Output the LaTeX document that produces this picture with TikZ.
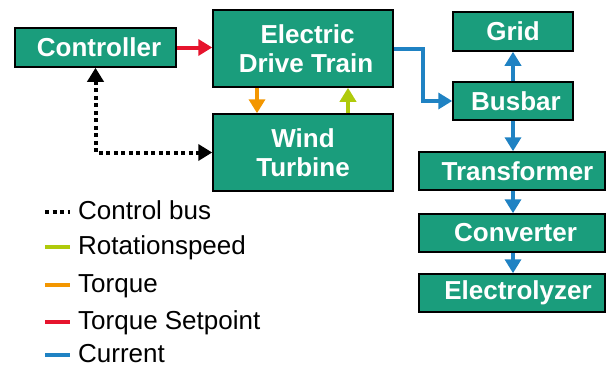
\documentclass[tikz,border=0pt]{standalone}
\usepackage{fontspec}
\setmainfont{Liberation Sans}
\usetikzlibrary{arrows.meta}
\definecolor{boxgreen}{RGB}{26,157,124}
\definecolor{sred}{RGB}{230,20,45}
\definecolor{sorange}{RGB}{243,150,0}
\definecolor{sgreen}{RGB}{175,202,11}
\definecolor{sblue}{RGB}{31,130,195}
\begin{document}
\begin{tikzpicture}[x=1pt,y=-1pt,
  blk/.style={draw=black,line width=1.5pt,fill=boxgreen,text=white,inner sep=0pt,
    font=\bfseries\fontsize{26}{29}\selectfont,align=center},
  conn/.style={line width=4pt,-{Triangle[length=14pt,width=16pt]}},
  dotline/.style={line width=4pt,dash pattern=on 4pt off 3.5pt},
  leg/.style={anchor=west,inner sep=0pt,font=\fontsize{26}{29}\selectfont},
  legline/.style={line width=4pt}]
\useasboundingbox (0,0) rectangle (606,370);
% boxes
\node[blk,minimum width=161pt,minimum height=39pt] (ctrl) at (95.5,47.5) {\hspace*{7pt}Controller};
\node[blk,minimum width=180pt,minimum height=77pt] (edt) at (303,48.5) {\hspace*{9pt}Electric\\\hspace*{6pt}Drive Train};
\node[blk,minimum width=180pt,minimum height=77pt] (wt) at (303,152.5) {Wind\\Turbine};
\node[blk,minimum width=120pt,minimum height=39pt] (grid) at (513,31.5) {Grid};
\node[blk,minimum width=120pt,minimum height=38pt] (bus) at (513,101) {\hspace*{6pt}Busbar};
\node[blk,minimum width=186pt,minimum height=38pt] (trafo) at (512,171) {\hspace*{11pt}Transformer};
\node[blk,minimum width=186pt,minimum height=38pt] (conv) at (512,233) {\hspace*{7pt}Converter};
\node[blk,minimum width=186pt,minimum height=38pt] (elec) at (512,293) {\hspace*{12pt}Electrolyzer};
% connectors
\draw[conn,sred] (ctrl.east) -- (edt.west |- ctrl.east);
\draw[conn,sorange] (edt.south -| 257,0) -- (wt.north -| 257,0);
\draw[conn,sgreen] (wt.north -| 348,0) -- (edt.south -| 348,0);
\draw[dotline,{Triangle[length=14pt,width=16pt]}-{Triangle[length=14pt,width=16pt]}] (ctrl.south) |- (wt.west);
\draw[conn,sblue] (edt.east) -- ++(29,0) |- (bus.west);
\draw[conn,sblue] (bus.north) -- (grid.south);
\draw[conn,sblue] (bus.south) -- (bus.south |- trafo.north);
\draw[conn,sblue] (trafo.south -| bus.south) -- (conv.north -| bus.south);
\draw[conn,sblue] (conv.south -| bus.south) -- (elec.north -| bus.south);
% legend
\coordinate (l1a) at (45,212); \coordinate (l1b) at (70,212);
\coordinate (l2a) at (45,247); \coordinate (l2b) at (70,247);
\coordinate (l3a) at (45,285); \coordinate (l3b) at (70,285);
\coordinate (l4a) at (45,322); \coordinate (l4b) at (70,322);
\coordinate (l5a) at (45,355); \coordinate (l5b) at (70,355);
\draw[dotline] (l1a) -- (l1b);
\draw[legline,sgreen] (l2a) -- (l2b);
\draw[legline,sorange] (l3a) -- (l3b);
\draw[legline,sred] (l4a) -- (l4b);
\draw[legline,sblue] (l5a) -- (l5b);
\node[leg,anchor=base west] (t1) at (78,219.5) {Control bus};
\node[leg,anchor=base west] (t2) at (78,254.5) {Rotationspeed};
\node[leg,anchor=base west] (t3) at (78,292.5) {Torque};
\node[leg,anchor=base west] (t4) at (78,329.5) {Torque Setpoint};
\node[leg,anchor=base west] (t5) at (78,362.5) {Current};
\end{tikzpicture}
\end{document}
